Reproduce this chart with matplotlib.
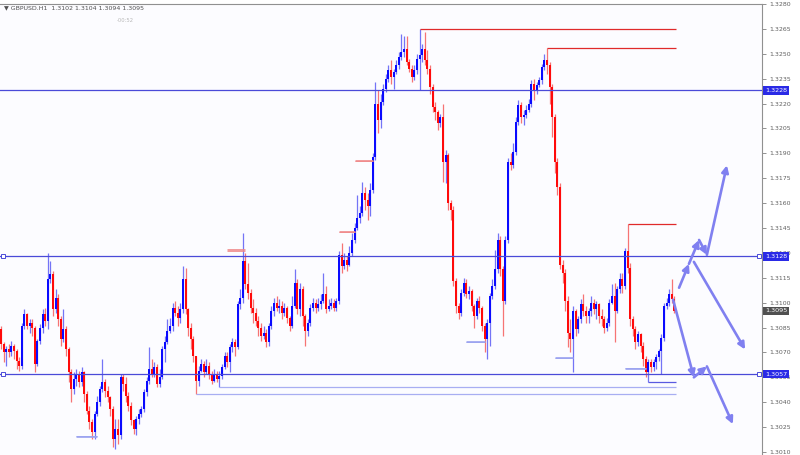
import matplotlib
matplotlib.use("Agg")
import matplotlib.pyplot as plt
from matplotlib.transforms import blended_transform_factory

BASE = 1.3000  # prices are given in pips above this level
first_open_pips = 84
close_pips = [75,70,72,70,74,71,65,62,86,93,86,88,85,63,77,85,93,89,114,117,
              96,103,90,78,84,72,58,48,54,57,52,58,45,35,28,22,33,40,48,52,
              47,43,36,18,24,20,55,51,44,38,29,24,30,33,36,46,53,60,57,61,
              51,55,72,76,83,86,97,94,91,96,114,96,85,78,68,53,59,63,58,62,
              57,53,57,54,56,61,68,64,73,76,73,99,103,125,111,106,97,94,89,85,
              80,82,76,86,95,100,97,98,94,97,91,86,98,112,96,108,92,83,88,97,
              100,97,99,101,105,96,98,100,97,101,129,122,126,123,130,138,145,151,154,166,
              162,158,168,188,220,210,221,229,235,240,236,239,243,248,251,253,245,241,236,240,
              247,249,253,246,241,230,218,215,208,212,185,189,160,156,113,98,94,106,112,105,
              107,98,92,101,97,86,78,88,104,110,120,138,120,101,138,185,183,191,209,219,
              212,213,216,220,232,228,231,234,242,246,243,230,212,185,170,123,118,101,82,78,
              95,84,90,99,95,92,95,100,96,99,92,90,85,88,100,104,95,108,114,110,
              131,121,90,84,76,81,74,66,58,64,61,64,67,71,79,98,100,105,102,95]
high_pips = [86,76,74,75,77,75,72,67,88,96,94,90,90,86,78,87,96,97,130,125,
             119,108,105,92,96,86,73,60,58,60,59,61,59,47,38,30,35,44,50,66,
             54,50,44,38,30,30,57,57,55,46,40,30,32,36,38,48,55,73,66,64,
             63,60,74,80,90,91,100,101,98,100,122,121,97,88,80,68,62,66,65,66,
             64,59,60,59,59,63,70,70,75,79,78,101,108,142,130,124,108,102,97,92,
             88,86,84,88,98,103,104,102,101,100,98,92,104,120,114,112,110,93,90,99,
             103,102,103,105,118,110,102,103,102,103,131,136,130,128,134,142,148,165,158,173,
             170,166,172,190,233,228,226,232,238,243,246,241,246,251,262,261,261,247,243,243,
             250,265,256,263,252,243,232,221,216,214,220,192,190,162,158,115,100,108,115,114,
             110,108,99,103,104,98,88,90,106,114,132,142,140,122,140,187,190,196,212,222,
             221,216,219,223,234,235,233,236,244,250,253.5,245,232,214,187,172,126,120,104,90,
             98,96,92,102,105,98,97,104,102,101,100,96,92,91,102,111,112,110,118,118,
             133,147.5,124,92,86,83,82,76,68,66,66,66,69,72,81,100,103,108,114,104]
low_pips = [72,64,62,67,68,66,60,59,60,84,84,82,80,58,62,75,82,86,84,112,
            92,94,86,74,76,68,52,40,45,50,49,50,40,33,24,18,18,32,38,46,
            43,40,32,13,12,15,18,47,40,35,26,21,20,27,31,34,44,51,55,55,
            49,49,54,64,75,82,83,92,86,88,94,93,80,72,64,44.8,50,58,55,57,
            54,51,52,52,49,54,60,61,58,70,68,72,96,100,108,102,94,88,86,80,
            77,78,73,74,84,92,95,94,90,92,88,83,85,97,93,92,86,74,80,86,
            95,94,95,96,100,94,95,96,95,95,99,118,120,119,122,128,136,144,148,152,
            156,150,152,166,186,202,205,219,227,233,232,229,238,241,246,248,243,239,233,234,
            238,228,245,243,238,226,215,210,204,206,173,172,156,150,110,94,90,92,104,103,
            102,95,85,90,94,83,70,66,74,102,108,118,116,80,99,136,180,181,189,207,
            208,207,211,215,218,222,226,230,232,240,238,220,200,178,165,120,112,95,73,70,
            58,80,82,88,92,88,88,92,93,90,88,86,82,83,86,99,76,94,106,106,
            108,118,86,80,72,74,70,62,55,52,58,59,60,65,57,77,96,98,100,94]

header_text = "\u25bc GBPUSD.H1  1.3102 1.3104 1.3094 1.3095"
timer_text = "-00:52"
tick_prices = [1.3010 + 0.0015 * k for k in range(19)]
main_levels = [1.3228, 1.3128, 1.3057]          # full-width blue levels
boxed_levels = [1.3128, 1.3057]                  # levels with end squares
current_price = 1.3095
# short levels: (start candle index, price)
light_levels = [(75, 1.30448), (84, 1.30490)]
dark_levels = [(249, 1.30520)]
red_levels = [(161, 1.32650), (210, 1.32535), (241, 1.31475)]
# small marker strokes: (start index, end index, price, colour)
markers = [(29, 37, 1.30192, "#9aa2f0"), (87, 94, 1.31314, "#f08a8a"),
           (130, 136, 1.31424, "#f08a8a"), (136, 143, 1.31852, "#f08a8a"),
           (179, 186, 1.30760, "#9aa2f0"), (213, 220, 1.30664, "#9aa2f0"),
           (240, 248, 1.30602, "#9aa2f0")]
# projected paths (candle index, price), each segment drawn as an arrow
up_path = [(260.8, 1.31090), (264.6, 1.31234), (268.5, 1.31378), (271.5, 1.31288), (279.2, 1.31828)]
up_heads = [True, True, True, True]
down_right = [(266.5, 1.31246), (286.2, 1.30718)]
low_path = [(258.5, 1.31018), (266.5, 1.30550), (271.5, 1.30616), (281.5, 1.30268)]
low_heads = [True, True, True]

closes = [BASE + v / 1e4 for v in close_pips]
highs = [BASE + v / 1e4 for v in high_pips]
lows = [BASE + v / 1e4 for v in low_pips]
opens = [BASE + first_open_pips / 1e4] + closes[:-1]
n = len(closes)

fig = plt.figure(figsize=(8, 4.55), dpi=100, facecolor="white")
ax = fig.add_axes([0, 0, 762 / 800, 451 / 455])
ax.set_facecolor("#fcfcff")
ax.set_xlim(-0.385, 292.7)
ax.set_ylim(1.30082, 1.32785)

xs = list(range(n))
bull_c, bear_c = "#0a0aff", "#ff0a0a"
for i in xs:
    o, c, h, l = opens[i], closes[i], highs[i], lows[i]
    up = c >= o
    ax.vlines(i, l, h, color="#7474f6" if up else "#f67474", lw=0.9, zorder=2)
    bot = min(o, c)
    hgt = max(abs(c - o), 0.00003)
    ax.bar(i, hgt, bottom=bot, width=0.78, color=bull_c if up else bear_c,
           linewidth=0, zorder=3)

line_c = "#4a4ad8"
for p in main_levels:
    ax.axhline(p, color=line_c, lw=0.9, zorder=4)
end_x = n - 0.5
for s, p in light_levels:
    ax.hlines(p, s, end_x, color="#a8aef2", lw=0.9, zorder=4)
for s, p in dark_levels:
    ax.hlines(p, s, end_x, color="#5a5ae0", lw=0.9, zorder=4)
for s, p in red_levels:
    ax.hlines(p, s, end_x, color="#e02a2a", lw=0.9, zorder=4)
for s, e, p, col in markers:
    for k in range(3):
        ax.hlines(p + k * 0.000035, s, e, color=col, lw=0.6, zorder=4)

tr = blended_transform_factory(ax.transAxes, ax.transData)
for p in boxed_levels:
    ax.plot([0.004, 0.996], [p, p], ls="none", marker="s", ms=2.6, mfc="white",
            mec=line_c, mew=0.7, transform=tr, zorder=5, clip_on=False)

arrow_c = "#8080f0"
def draw_path(pts, heads):
    for (a, b), hd in zip(zip(pts[:-1], pts[1:]), heads):
        ax.annotate("", xy=b, xytext=a,
                    arrowprops=dict(arrowstyle="-|>" if hd else "-", color=arrow_c,
                                    lw=1.9, mutation_scale=10, shrinkA=0, shrinkB=0),
                    zorder=6)
draw_path(up_path, up_heads)
draw_path(down_right, [True])
draw_path(low_path, low_heads)

ax.yaxis.tick_right()
ax.set_yticks(tick_prices)
ax.set_yticklabels([f"{p:.4f}" for p in tick_prices])
ax.tick_params(axis="y", length=3, width=0.6, color="#808080", labelsize=4.5,
               labelcolor="#606060", pad=2)
ax.set_xticks([])
for side in ["left", "bottom"]:
    ax.spines[side].set_visible(False)
for side in ["right", "top"]:
    ax.spines[side].set_color("#909090")
    ax.spines[side].set_linewidth(0.8)

box_tr = ax.get_yaxis_transform()
for p in main_levels:
    ax.text(1.004, p, f"{p:.4f}", transform=box_tr, va="center", ha="left",
            fontsize=4.6, color="white", zorder=10, clip_on=False,
            bbox=dict(boxstyle="square,pad=0.3", fc="#2a2ae6", ec="none"))
ax.text(1.004, current_price, f"{current_price:.4f}", transform=box_tr, va="center",
        ha="left", fontsize=4.6, color="white", zorder=10, clip_on=False,
        bbox=dict(boxstyle="square,pad=0.3", fc="#505050", ec="none"))

fig.text(4 / 800, 1 - 8 / 455, header_text, fontsize=4.5, color="#505050",
         va="center", ha="left")
fig.text(117 / 800, 1 - 21 / 455, timer_text, fontsize=3.8, color="#b8b8b8",
         va="center", ha="left")

fig.savefig("out.png", dpi=100, facecolor="white")
